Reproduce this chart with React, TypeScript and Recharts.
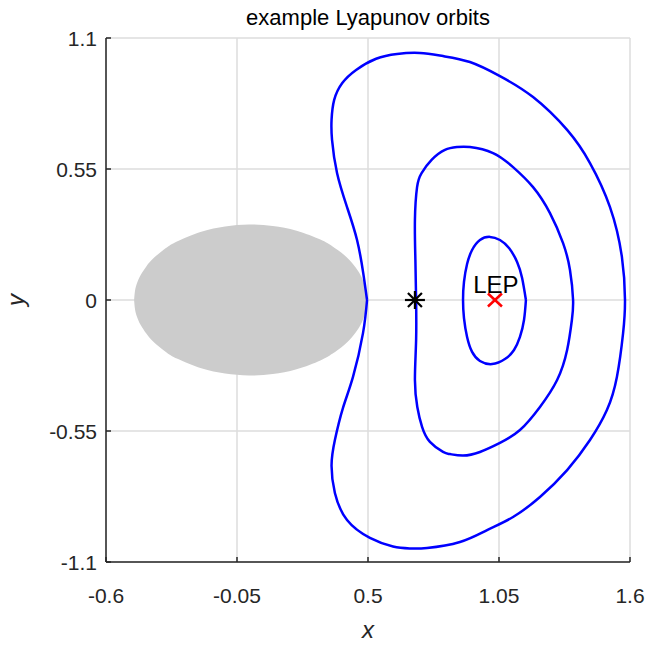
import React from "react";
import {
  Area,
  CartesianGrid,
  ComposedChart,
  Label,
  Line,
  Scatter,
  XAxis,
  YAxis,
} from "recharts";

const FONT = "'Liberation Sans', Arial, Helvetica, sans-serif";
const INK = "#262626";
const X_GAP = 26;
const Y_GAP = 9;

// primary body outline: x positions and half-heights of the shaded disc
const earthX = [
  -0.482, -0.478, -0.47, -0.455, -0.43, -0.4, -0.35, -0.3, -0.2, -0.1, 0, 0.1,
  0.2, 0.3, 0.35, 0.4, 0.44, 0.465, 0.48, 0.49, 0.494, 0.496,
];
const earthHalf = [
  0, 0.04, 0.07, 0.104, 0.142, 0.176, 0.217, 0.247, 0.287, 0.309, 0.317,
  0.311, 0.291, 0.254, 0.226, 0.189, 0.147, 0.111, 0.08, 0.05, 0.029, 0,
];

// three planar Lyapunov orbits, [x, y] in rotating-frame units
const innerOrbit: [number, number][] = [
  [1.163, 0], [1.155, -0.084], [1.138, -0.155], [1.113, -0.21],
  [1.075, -0.248], [1.021, -0.269], [0.97, -0.256], [0.937, -0.218],
  [0.916, -0.155], [0.903, -0.076], [0.899, 0], [0.903, 0.076],
  [0.916, 0.151], [0.937, 0.21], [0.97, 0.252], [1.012, 0.265],
  [1.054, 0.252], [1.092, 0.218], [1.126, 0.16], [1.147, 0.092], [1.163, 0],
];

const middleOrbit: [number, number][] = [
  [0.702, 0], [0.699, 0.168], [0.697, 0.336], [0.706, 0.474], [0.725, 0.533],
  [0.767, 0.588], [0.823, 0.63], [0.874, 0.642], [0.928, 0.642],
  [1.025, 0.617], [1.109, 0.558], [1.193, 0.474], [1.264, 0.365],
  [1.319, 0.239], [1.348, 0.126], [1.361, 0], [1.356, -0.084],
  [1.336, -0.21], [1.294, -0.336], [1.222, -0.449], [1.138, -0.546],
  [1.054, -0.6], [0.97, -0.638], [0.899, -0.653], [0.844, -0.647],
  [0.815, -0.638], [0.76, -0.596], [0.727, -0.533], [0.707, -0.449],
  [0.697, -0.336], [0.702, -0.168], [0.702, 0],
];

const outerOrbit: [number, number][] = [
  [0.496, 0], [0.48, 0.113], [0.454, 0.252], [0.412, 0.39], [0.37, 0.533],
  [0.349, 0.672], [0.347, 0.756], [0.358, 0.84], [0.392, 0.911],
  [0.45, 0.966], [0.534, 1.013], [0.622, 1.033], [0.718, 1.037],
  [0.815, 1.024], [0.928, 0.999], [1.054, 0.94], [1.193, 0.852],
  [1.336, 0.714], [1.432, 0.575], [1.516, 0.39], [1.566, 0.181], [1.579, 0],
  [1.571, -0.139], [1.545, -0.323], [1.503, -0.462], [1.432, -0.588],
  [1.336, -0.714], [1.222, -0.827], [1.109, -0.911], [1.0, -0.966],
  [0.886, -1.016], [0.748, -1.041], [0.676, -1.043], [0.605, -1.035],
  [0.508, -0.999], [0.412, -0.924], [0.361, -0.81], [0.347, -0.693],
  [0.361, -0.588], [0.395, -0.453], [0.437, -0.323], [0.479, -0.139],
  [0.496, 0],
];

const crossing = [{ x: 0.697, y: 0 }];
const lep = [{ x: 1.033, y: 0, name: "LEP" }];

const xTicks = [-0.6, -0.05, 0.5, 1.05, 1.6];
const yTicks = [-1.1, -0.55, 0, 0.55, 1.1];

const earthRows = earthX.map((x, i) => ({
  x,
  band: [-earthHalf[i], earthHalf[i]],
}));
const toRows = (pts: [number, number][]) => pts.map(([x, y]) => ({ x, y }));

const XTick = ({ x, y, payload }: any) => (
  <g>
    <line
      x1={x}
      x2={x}
      y1={y - X_GAP}
      y2={y - X_GAP - 5}
      stroke={INK}
      strokeWidth={1.5}
    />
    <text
      x={x}
      y={y}
      dy="0.71em"
      textAnchor="middle"
      fill={INK}
      fontSize={21}
      fontFamily={FONT}
    >
      {String(payload.value)}
    </text>
  </g>
);

const YTick = ({ x, y, payload }: any) => (
  <g>
    <line
      x1={x + Y_GAP}
      x2={x + Y_GAP + 5}
      y1={y}
      y2={y}
      stroke={INK}
      strokeWidth={1.5}
    />
    <text
      x={x}
      y={y}
      dy="0.4em"
      textAnchor="end"
      fill={INK}
      fontSize={21}
      fontFamily={FONT}
    >
      {String(payload.value)}
    </text>
  </g>
);

const StarMark = ({ cx, cy }: any) => (
  <g stroke="#000" strokeWidth={2.2}>
    <line x1={cx - 10} y1={cy} x2={cx + 10} y2={cy} />
    <line x1={cx} y1={cy - 9} x2={cx} y2={cy + 9} />
    <line x1={cx - 7} y1={cy - 7} x2={cx + 7} y2={cy + 7} />
    <line x1={cx - 7} y1={cy + 7} x2={cx + 7} y2={cy - 7} />
  </g>
);

const LepMark = ({ cx, cy, payload }: any) => (
  <g>
    <g stroke="#ff0000" strokeWidth={2.5}>
      <line x1={cx - 7} y1={cy - 6.5} x2={cx + 7} y2={cy + 6.5} />
      <line x1={cx - 7} y1={cy + 6.5} x2={cx + 7} y2={cy - 6.5} />
    </g>
    <text
      x={cx + 1}
      y={cy - 7.5}
      textAnchor="middle"
      fill="#000"
      fontSize={24}
      fontFamily={FONT}
    >
      {payload.name}
    </text>
  </g>
);

export default function App() {
  const orbits = [innerOrbit, middleOrbit, outerOrbit];
  return (
    <div
      style={{
        position: "absolute",
        left: 0,
        top: 0,
        width: 651,
        height: 646,
        background: "#fff",
        fontFamily: FONT,
      }}
    >
      <div
        style={{
          position: "absolute",
          left: 106,
          width: 524,
          top: 5,
          textAlign: "center",
          fontSize: 22,
          lineHeight: "26px",
          color: "#000",
        }}
      >
        example Lyapunov orbits
      </div>
      <ComposedChart
        width={651}
        height={646}
        data={earthRows}
        margin={{ top: 38, right: 21, left: 0, bottom: 0 }}
      >
        <CartesianGrid stroke="#dcdcdc" strokeWidth={1.5} />
        <XAxis
          type="number"
          dataKey="x"
          domain={[-0.6, 1.6]}
          ticks={xTicks}
          interval={0}
          allowDataOverflow
          height={84}
          tickSize={0}
          tickMargin={X_GAP}
          tick={<XTick />}
          axisLine={{ stroke: INK, strokeWidth: 1.5 }}
        >
          <Label
            content={({ viewBox }: any) => (
              <text
                x={viewBox.x + viewBox.width / 2}
                y={viewBox.y + 76}
                textAnchor="middle"
                fontSize={24}
                fontStyle="italic"
                fontFamily={FONT}
                fill={INK}
              >
                x
              </text>
            )}
          />
        </XAxis>
        <YAxis
          type="number"
          domain={[-1.1, 1.1]}
          ticks={yTicks}
          interval={0}
          allowDataOverflow
          width={106}
          tickSize={0}
          tickMargin={Y_GAP}
          tick={<YTick />}
          axisLine={{ stroke: INK, strokeWidth: 1.5 }}
        >
          <Label
            content={({ viewBox }: any) => {
              const lx = viewBox.x + 24;
              const ly = viewBox.y + viewBox.height / 2;
              return (
                <text
                  x={lx}
                  y={ly}
                  transform={`rotate(-90, ${lx}, ${ly})`}
                  textAnchor="middle"
                  fontSize={24}
                  fontStyle="italic"
                  fontFamily={FONT}
                  fill={INK}
                >
                  y
                </text>
              );
            }}
          />
        </YAxis>
        <Area
          dataKey="band"
          type="natural"
          fill="#cccccc"
          fillOpacity={1}
          stroke="none"
          isAnimationActive={false}
        />
        {orbits.map((pts, i) => (
          <Line
            key={i}
            data={toRows(pts)}
            dataKey="y"
            type="natural"
            stroke="#0000ff"
            strokeWidth={2.5}
            dot={false}
            activeDot={false}
            isAnimationActive={false}
          />
        ))}
        <Scatter
          data={crossing}
          dataKey="y"
          shape={<StarMark />}
          isAnimationActive={false}
        />
        <Scatter
          data={lep}
          dataKey="y"
          shape={<LepMark />}
          isAnimationActive={false}
        />
      </ComposedChart>
    </div>
  );
}
